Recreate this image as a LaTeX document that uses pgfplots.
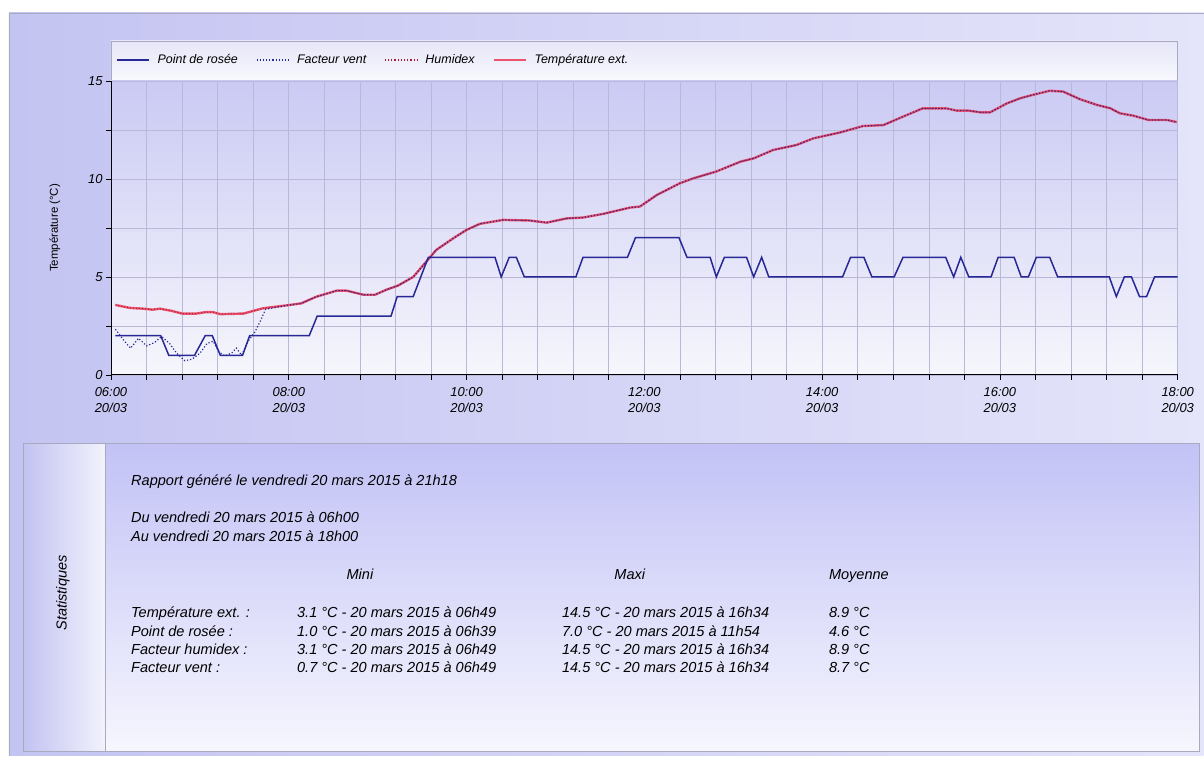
\documentclass[border=0pt]{standalone}
\usepackage{fontspec}
\setmainfont{Liberation Sans}
\usepackage{pgfplots}
\usepackage{pgfplotstable}
\pgfplotsset{compat=1.18}

\definecolor{outerL}{RGB}{196,196,242}
\definecolor{outerR}{RGB}{228,228,250}
\definecolor{plotT}{RGB}{202,202,244}
\definecolor{plotB}{RGB}{246,246,252}
\definecolor{legT}{RGB}{230,230,248}
\definecolor{legB}{RGB}{248,248,254}
\definecolor{statT}{RGB}{194,194,246}
\definecolor{statB}{RGB}{246,246,254}
\definecolor{stripL}{RGB}{194,194,242}
\definecolor{stripR}{RGB}{242,242,252}
\definecolor{gridc}{RGB}{185,185,215}
\definecolor{borderc}{RGB}{170,170,190}
\definecolor{dewc}{RGB}{40,40,150}
\definecolor{tempc}{RGB}{236,84,110}
\definecolor{humc}{RGB}{165,25,55}

\pgfplotstableread{
h v
6.05 3.57
6.21 3.42
6.36 3.38
6.47 3.33
6.55 3.38
6.68 3.27
6.80 3.13
6.96 3.13
7.06 3.20
7.15 3.20
7.23 3.10
7.49 3.13
7.71 3.40
7.98 3.55
8.14 3.65
8.31 3.99
8.54 4.30
8.65 4.30
8.84 4.09
8.97 4.09
9.10 4.35
9.23 4.56
9.40 5.00
9.57 5.90
9.66 6.38
9.85 6.97
10.00 7.40
10.15 7.71
10.41 7.91
10.71 7.88
10.90 7.77
11.13 7.99
11.31 8.03
11.54 8.22
11.84 8.54
11.95 8.59
12.14 9.18
12.40 9.78
12.55 10.03
12.81 10.38
13.08 10.88
13.23 11.05
13.45 11.48
13.71 11.73
13.90 12.07
14.20 12.37
14.46 12.70
14.69 12.75
14.91 13.18
15.13 13.60
15.40 13.60
15.51 13.49
15.64 13.49
15.78 13.40
15.89 13.40
16.08 13.86
16.23 14.12
16.37 14.29
16.56 14.50
16.71 14.46
16.90 14.07
17.09 13.78
17.24 13.61
17.35 13.35
17.50 13.23
17.67 13.01
17.88 13.01
17.99 12.90
}\temptable

\pgfplotstableread{
h v
6.05 2
6.56 2
6.65 1
6.94 1
7.06 2
7.14 2
7.23 1
7.48 1
7.56 2
8.23 2
8.32 3
9.15 3
9.22 4
9.40 4
9.57 6
10.32 6
10.39 5
10.48 6
10.56 6
10.65 5
11.23 5
11.31 6
11.81 6
11.90 7
12.39 7
12.48 6
12.74 6
12.81 5
12.90 6
13.15 6
13.23 5
13.32 6
13.40 5
14.23 5
14.32 6
14.47 6
14.56 5
14.81 5
14.91 6
15.39 6
15.48 5
15.56 6
15.65 5
15.90 5
15.98 6
16.16 6
16.24 5
16.32 5
16.41 6
16.56 6
16.65 5
17.23 5
17.31 4
17.40 5
17.48 5
17.57 4
17.65 4
17.74 5
18.00 5
}\dewtable

\pgfplotstableread{
h v
6.05 2.33
6.14 1.79
6.22 1.36
6.31 1.87
6.40 1.48
6.49 1.65
6.57 1.96
6.66 1.60
6.74 1.10
6.83 0.72
6.91 0.80
7.00 1.10
7.08 1.60
7.15 1.72
7.21 1.20
7.28 0.96
7.36 1.13
7.41 1.37
7.47 1.00
7.54 1.70
7.62 2.20
7.68 2.75
7.74 3.35
7.98 3.55
8.14 3.65
8.31 3.99
8.54 4.30
8.65 4.30
8.84 4.09
8.97 4.09
9.10 4.35
9.23 4.56
9.40 5.00
9.57 5.90
9.66 6.38
9.85 6.97
10.00 7.40
10.15 7.71
10.41 7.91
10.71 7.88
10.90 7.77
11.13 7.99
11.31 8.03
11.54 8.22
11.84 8.54
11.95 8.59
12.14 9.18
12.40 9.78
12.55 10.03
12.81 10.38
13.08 10.88
13.23 11.05
13.45 11.48
13.71 11.73
13.90 12.07
14.20 12.37
14.46 12.70
14.69 12.75
14.91 13.18
15.13 13.60
15.40 13.60
15.51 13.49
15.64 13.49
15.78 13.40
15.89 13.40
16.08 13.86
16.23 14.12
16.37 14.29
16.56 14.50
16.71 14.46
16.90 14.07
17.09 13.78
17.24 13.61
17.35 13.35
17.50 13.23
17.67 13.01
17.88 13.01
17.99 12.90
}\windtable

\begin{document}
\begin{tikzpicture}
% page and outer panel
\fill[white] (0bp,0bp) rectangle (1204bp,756bp);
\shade[left color=outerL, right color=outerR] (9bp,0bp) rectangle (1204bp,743bp);
\draw[borderc, line width=0.6bp] (9bp,0bp) -- (9bp,743bp) -- (1204bp,743bp);
% legend box
\shadedraw[top color=legT, bottom color=legB, draw=borderc, line width=0.8bp] (111bp,676bp) rectangle (1178bp,715bp);
% plot area
\shadedraw[top color=plotT, bottom color=plotB, draw=borderc, line width=0.6bp] (111bp,381bp) rectangle (1178bp,675bp);
% statistics panel
\shade[top color=statT, bottom color=statB] (105bp,4bp) rectangle (1200bp,312bp);
\shade[left color=stripL, right color=stripR] (23bp,4bp) rectangle (105bp,312bp);
\draw[borderc, line width=0.8bp] (23bp,4bp) rectangle (1200bp,312bp);
\draw[borderc, line width=0.8bp] (105bp,4bp) -- (105bp,312bp);

\begin{axis}[
  at={(111bp,381bp)}, anchor=south west,
  scale only axis, width=1067bp, height=294bp,
  xmin=6, xmax=18, ymin=0, ymax=15,
  axis lines=left,
  axis line style={-, black, line width=0.9bp},
  xtick={6,8,10,12,14,16,18},
  xticklabels={{06:00\\20/03},{08:00\\20/03},{10:00\\20/03},{12:00\\20/03},{14:00\\20/03},{16:00\\20/03},{18:00\\20/03}},
  minor x tick num=4,
  ytick={0,5,10,15},
  minor y tick num=1,
  grid=both,
  grid style={draw=gridc, line width=0.6bp},
  major grid style={draw=gridc, line width=0.6bp},
  minor grid style={draw=gridc, line width=0.6bp},
  tick align=outside,
  major tick length=5bp, minor tick length=5bp,
  tick style={black, line width=0.6bp},
  /pgf/number format/assume math mode=true,
  xticklabel style={align=center, yshift=-4bp, font=\fontsize{13}{16}\selectfont\itshape},
  yticklabel style={font=\fontsize{13}{15}\selectfont\itshape},
  ylabel={Température (°C)},
  ylabel style={at={(axis description cs:-0.0525,0.5)}, anchor=center, font=\fontsize{11.5}{13}\selectfont},
  legend style={at={(0,1)}, anchor=west, xshift=5bp, yshift=21bp, draw=none, fill=none,
    font=\fontsize{12.5}{14}\selectfont\itshape, legend columns=-1, inner sep=0pt,
    /tikz/every even column/.append style={column sep=16bp},
    /tikz/every odd column/.append style={column sep=6bp}},
  legend image code/.code={\draw[#1] (0bp,0bp) -- (32bp,0bp);},
  clip=false,
]
\addplot[forget plot, tempc, line width=2.4bp] table[x=h,y=v] {\temptable};
\addplot[forget plot, humc, dotted, line width=1bp] table[x=h,y=v] {\temptable};
\addplot[dewc, line width=1.5bp] table[x=h,y=v] {\dewtable};
\addlegendentry{Point de rosée}
\addplot[dewc, dotted, line width=1.2bp] table[x=h,y=v] {\windtable};
\addlegendentry{Facteur vent}
\addlegendimage{humc, dotted, line width=1.2bp}
\addlegendentry{Humidex}
\addlegendimage{tempc, line width=2bp}
\addlegendentry{Température ext.}
\end{axis}

% statistics text
\begin{scope}[every node/.style={font=\fontsize{14.6}{17}\selectfont\itshape, inner sep=0pt}]
\node[rotate=90] at (63bp,163bp) {Statistiques};
\node[anchor=base west] at (131bp,270bp) {Rapport généré le vendredi 20 mars 2015 à 21h18};
\node[anchor=base west] at (131bp,233bp) {Du vendredi 20 mars 2015 à 06h00};
\node[anchor=base west] at (131bp,214bp) {Au vendredi 20 mars 2015 à 18h00};
\node[anchor=base] at (360bp,176bp) {Mini};
\node[anchor=base] at (630bp,176bp) {Maxi};
\node[anchor=base west] at (829bp,176bp) {Moyenne};
\node[anchor=base west] at (131bp,138bp) {Température ext. :};
\node[anchor=base west] at (131bp,119bp) {Point de rosée :};
\node[anchor=base west] at (131bp,101bp) {Facteur humidex :};
\node[anchor=base west] at (131bp,83bp) {Facteur vent :};
\node[anchor=base west] at (297bp,138bp) {3.1 °C - 20 mars 2015 à 06h49};
\node[anchor=base west] at (297bp,119bp) {1.0 °C - 20 mars 2015 à 06h39};
\node[anchor=base west] at (297bp,101bp) {3.1 °C - 20 mars 2015 à 06h49};
\node[anchor=base west] at (297bp,83bp) {0.7 °C - 20 mars 2015 à 06h49};
\node[anchor=base west] at (562bp,138bp) {14.5 °C - 20 mars 2015 à 16h34};
\node[anchor=base west] at (562bp,119bp) {7.0 °C - 20 mars 2015 à 11h54};
\node[anchor=base west] at (562bp,101bp) {14.5 °C - 20 mars 2015 à 16h34};
\node[anchor=base west] at (562bp,83bp) {14.5 °C - 20 mars 2015 à 16h34};
\node[anchor=base west] at (829bp,138bp) {8.9 °C};
\node[anchor=base west] at (829bp,119bp) {4.6 °C};
\node[anchor=base west] at (829bp,101bp) {8.9 °C};
\node[anchor=base west] at (829bp,83bp) {8.7 °C};
\end{scope}
\end{tikzpicture}
\end{document}
